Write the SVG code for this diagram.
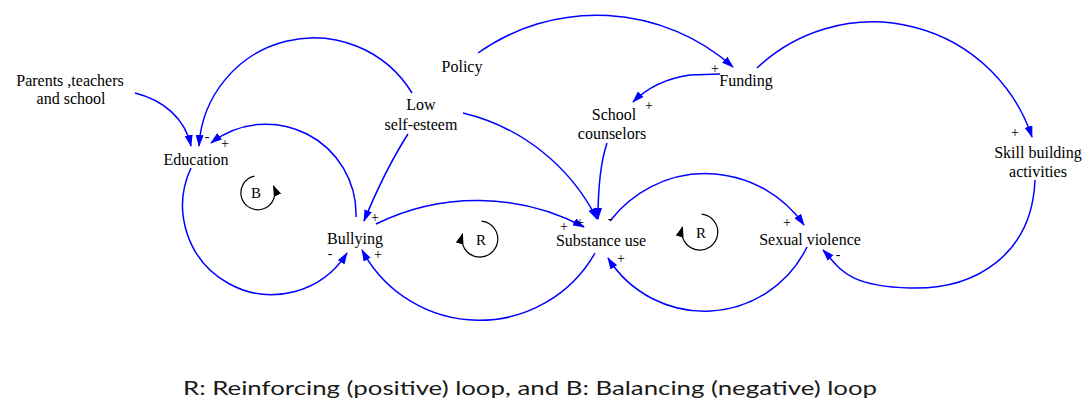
<svg xmlns="http://www.w3.org/2000/svg" width="1083" height="407" viewBox="0 0 1083 407">
<style>
.lbl{font-family:"Liberation Serif","Times New Roman",serif;font-size:16px;fill:#000;text-anchor:middle}
.pol{font-family:"Liberation Serif","Times New Roman",serif;font-size:14px;fill:#000;text-anchor:middle}
.loopt{font-family:"Liberation Serif","Times New Roman",serif;font-size:15px;fill:#000;text-anchor:middle}
.c{fill:none;stroke:#0000ff;stroke-width:1.5;marker-end:url(#ah)}
.loop{fill:none;stroke:#000;stroke-width:1.2;marker-end:url(#lh)}
.cap{font-family:Lato,"Liberation Sans",sans-serif;font-size:19px;fill:#1a1a1a}
</style>
<defs>
<marker id="ah" markerUnits="userSpaceOnUse" markerWidth="12" markerHeight="8" viewBox="0 0 12 8" refX="11" refY="4" orient="auto">
<path d="M0,0 L12,4 L0,8 Z" fill="#0000ff"/>
</marker>
<marker id="lh" markerUnits="userSpaceOnUse" markerWidth="11" markerHeight="8" viewBox="0 0 11 8" refX="10" refY="4" orient="auto">
<path d="M0,0 L11,4 L0,8 Z" fill="#000"/>
</marker>
</defs>
<rect width="1083" height="407" fill="#fff"/>
<g id="connectors">
<path class="c" d="M135,93 C163,100 185,118 191,146"/>
<path class="c" d="M412,93 A115 115 0 0 0 199,146"/>
<path class="c" d="M356,217 A90 90 0 0 0 211,143"/>
<path class="c" d="M191,168 A89 89 0 0 0 347,253"/>
<path class="c" d="M408,134 Q385,170 364,221"/>
<path class="c" d="M376,224 A229 229 0 0 1 584,227"/>
<path class="c" d="M595,253 A133 133 0 0 1 362,250"/>
<path class="c" d="M463,113 A203 203 0 0 1 597,219"/>
<path class="c" d="M607,143 Q598,170 598,219"/>
<path class="c" d="M478,53 A205 205 0 0 1 733,67"/>
<path class="c" d="M720,74 L690,75 Q655,80 633,102"/>
<path class="c" d="M757,68 A168 168 0 0 1 1032,137"/>
<path class="c" d="M1035,180 C1032,255 975,290 910,288 S840,268 823,250"/>
<path class="c" d="M610,221 A120 120 0 0 1 804,225"/>
<path class="c" d="M807,247 A114 114 0 0 1 608,258"/>
</g>
<g id="polarities">
<text class="pol" x="207" y="141">-</text>
<text class="pol" x="225" y="148">+</text>
<text class="pol" x="375" y="222">+</text>
<text class="pol" x="330" y="258">-</text>
<text class="pol" x="378" y="259">+</text>
<text class="pol" x="580" y="227">+</text>
<text class="pol" x="610" y="223">-</text>
<text class="pol" x="564" y="231">+</text>
<text class="pol" x="621" y="263">+</text>
<text class="pol" x="715" y="73">+</text>
<text class="pol" x="649" y="110">+</text>
<text class="pol" x="1015" y="137">+</text>
<text class="pol" x="787" y="227">+</text>
<text class="pol" x="838" y="259">-</text>
</g>
<g id="loop-B">
<path class="loop" d="M254.5,176.1 A17 17 0 1 0 273.5,186"/>
<text class="loopt" x="256" y="198">B</text>
</g>
<g id="loop-R1">
<path class="loop" d="M481.6,221.1 A18 18 0 1 1 462.5,234"/>
<text class="loopt" x="481" y="245">R</text>
</g>
<g id="loop-R2">
<path class="loop" d="M701.6,214.1 A18 18 0 1 1 682.5,227"/>
<text class="loopt" x="701" y="238">R</text>
</g>
<g id="parents"><text class="lbl" x="70" y="86">Parents ,teachers</text><text class="lbl" x="71" y="104">and school</text></g>
<g id="education"><text class="lbl" x="196" y="165">Education</text></g>
<g id="low-self-esteem"><text class="lbl" x="421" y="110">Low</text><text class="lbl" x="421" y="130">self-esteem</text></g>
<g id="policy"><text class="lbl" x="462" y="72">Policy</text></g>
<g id="funding"><text class="lbl" x="746" y="86">Funding</text></g>
<g id="school-counselors"><text class="lbl" x="614" y="120">School</text><text class="lbl" x="612" y="139">counselors</text></g>
<g id="skill-building"><text class="lbl" x="1038" y="158">Skill building</text><text class="lbl" x="1038" y="177">activities</text></g>
<g id="bullying"><text class="lbl" x="355" y="244">Bullying</text></g>
<g id="substance-use"><text class="lbl" x="601" y="246">Substance use</text></g>
<g id="sexual-violence"><text class="lbl" x="810" y="245">Sexual violence</text></g>
<text class="cap" x="183" y="395" textLength="694" lengthAdjust="spacingAndGlyphs">R: Reinforcing (positive) loop, and B: Balancing (negative) loop</text>
</svg>
